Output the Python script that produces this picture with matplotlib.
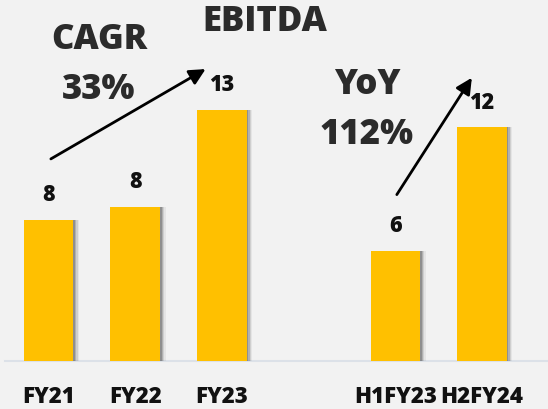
import matplotlib
matplotlib.use("Agg")
import matplotlib.pyplot as plt

categories = ["FY21", "FY22", "FY23", "H1FY23", "H2FY24"]
positions = [0, 1, 2, 4, 5]
values = [7.3, 8.0, 13.0, 5.7, 12.1]
labels = ["8", "8", "13", "6", "12"]

bg = "#F2F2F2"
bar_color = "#FFC000"
txt = "#2B2B2B"

plt.rcParams['font.family'] = ['Open Sans', 'DejaVu Sans']

fig = plt.figure(figsize=(5.48, 4.10), dpi=100, facecolor=bg)
ax = fig.add_axes([0, 0, 1, 1])
ax.set_facecolor(bg)
ax.set_xlim(-0.559, 5.761)
ax.set_ylim(-2.49, 18.76)
ax.axis("off")

# soft shadow on the right side of each bar
for k, a in enumerate([0.35, 0.25, 0.15, 0.08]):
    ax.bar([p + 0.02 + 0.015 * k for p in positions], values, width=0.57,
           color="#555555", alpha=a, zorder=1)
ax.bar(positions, values, width=0.57, color=bar_color, zorder=2)

ax.axhline(0, xmin=0.01, xmax=1, color="#DCE1E8", lw=1.5, zorder=0)

for p, v, lab in zip(positions, values, labels):
    ax.annotate(lab, (p, v), xytext=(0, 18.7), textcoords="offset points",
                ha="center", va="center", fontsize=15.5, fontweight="heavy", color="#111111")
for p, c in zip(positions, categories):
    ax.annotate(c, (p, 0), xytext=(0, -25.2), textcoords="offset points",
                ha="center", va="center", fontsize=16, fontweight="heavy", color="#111111")

# growth arrows
arrow = dict(arrowstyle="-|>", color="black", lw=2, mutation_scale=24)
ax.annotate("", xy=(1.84, 15.2), xytext=(0.0, 10.4), arrowprops=arrow)
ax.annotate("", xy=(4.90, 14.8), xytext=(4.0, 8.5), arrowprops=arrow)

big = dict(ha="center", va="center", fontsize=25, fontweight="heavy", color=txt)
fig.text(265 / 548, 1 - 22 / 410, "EBITDA", **big)
fig.text(99 / 548, 1 - 40 / 410, "CAGR", **big)
fig.text(99 / 548, 1 - 90 / 410, "33%", **big)
fig.text(367 / 548, 1 - 85 / 410, "YoY", **big)
fig.text(367 / 548, 1 - 135 / 410, "112%", **big)

fig.savefig("out.png", dpi=100, facecolor=bg)
